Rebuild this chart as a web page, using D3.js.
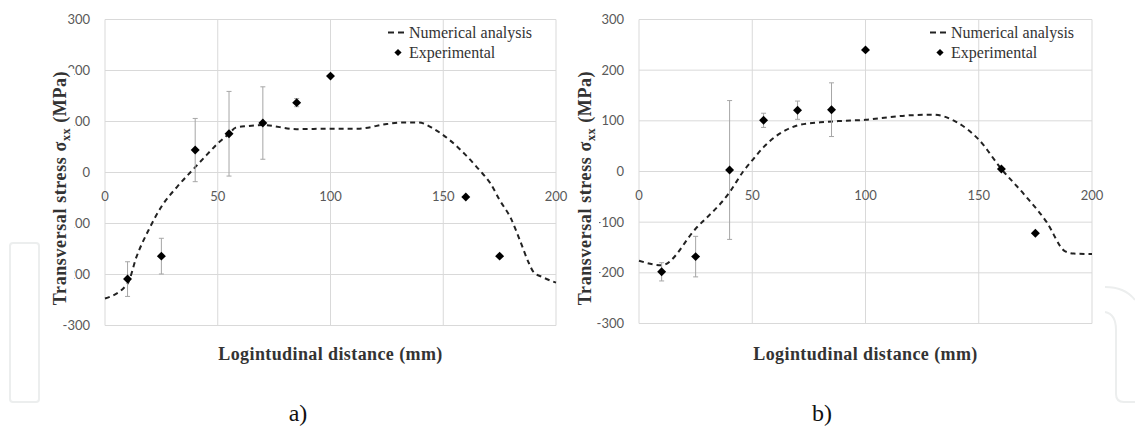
<!DOCTYPE html>
<html>
<head>
<meta charset="utf-8">
<script src="https://cdn.jsdelivr.net/npm/d3@7"></script>
<style>
  body { margin: 0; background: #fff; }
  svg { display: block; }
</style>
</head>
<body>
<svg id="chart" width="1135" height="432"></svg>
<script>
// experimental sample positions (mm), same for both panels
const expX = [10, 25, 40, 55, 70, 85, 100, 160, 175];

// panel a) experimental values and error (+/-)
const expA = [-209, -164, 44, 76, 97, 137, 189, -48, -164];
const errA = [34, 35, 62, 83, 71, 8, 0, 0, 0];

// panel b) experimental values and error (+/-)
const expB = [-198, -168, 3, 101, 121, 122, 240, 5, -122];
const errB = [18, 40, 137, 14, 18, 53, 0, 0, 0];

// numerical analysis curves
const numAX = [0, 10, 14, 20, 25, 32, 38, 45, 50, 55, 58, 63, 70, 85, 100, 112, 125, 131, 139, 146, 153, 160, 166, 171, 175, 180, 184, 188, 190, 194, 200];
const numAY = [-247, -218, -165, -107, -67, -28, 1, 34, 57, 76, 88, 91, 93, 85, 86, 86, 95, 98, 98, 85, 63, 34, 5, -22, -54, -90, -133, -178, -195, -205, -216];

const numBX = [0, 10, 25, 40, 46, 50, 55, 60, 65, 70, 80, 90, 100, 110, 120, 130, 140, 150, 160, 170, 180, 188, 192, 200];
const numBY = [-176, -185, -113, -41, 0, 22, 48, 68, 82, 91, 97, 100, 102, 107, 111, 112, 98, 63, 5, -45, -100, -157, -162, -163];

const xTicks = [0, 50, 100, 150, 200];
const yTicks = [-300, -200, -100, 0, 100, 200, 300];

const serif = "'Liberation Serif', 'Times New Roman', serif";
const sans = "Lato, 'Open Sans', sans-serif";

const panels = [
  { x0: 105, x1: 556, yb: 325.5, yt: 19.5, titleX: 60, legendX: 409, label: "a)", labelX: 298,
    numX: numAX, numY: numAY, expY: expA, err: errA },
  { x0: 639, x1: 1092, yb: 323.5, yt: 19.5, titleX: 585, legendX: 951, label: "b)", labelX: 822,
    numX: numBX, numY: numBY, expY: expB, err: errB },
];

const svg = d3.select("#chart");
svg.append("rect").attr("width", 1135).attr("height", 432).attr("fill", "#fff");

// faint page decorations
svg.append("rect")
  .attr("x", 10).attr("y", 243).attr("width", 29).attr("height", 159).attr("rx", 3)
  .attr("fill", "none").attr("stroke", "#eceeee").attr("stroke-width", 2);
svg.append("path")
  .attr("d", "M1105,287 Q1125,287 1135,300 M1105,312 Q1116,314 1116,330 L1116,394 Q1116,402 1124,402 L1135,402")
  .attr("fill", "none").attr("stroke", "#eceeee").attr("stroke-width", 2);

// square diamond marker (square turned 45deg)
const diamond = d3.symbol().type(d3.symbolSquare).size(40);

function drawPanel(p) {
  const g = svg.append("g");
  const x = d3.scaleLinear().domain([0, 200]).range([p.x0, p.x1]);
  const y = d3.scaleLinear().domain([-300, 300]).range([p.yb, p.yt]);

  // grid
  g.selectAll(".vgrid").data(xTicks).join("line")
    .attr("x1", (d) => x(d)).attr("x2", (d) => x(d))
    .attr("y1", y(-300)).attr("y2", y(300))
    .attr("stroke", "#d9d9d9").attr("stroke-width", 1);
  g.selectAll(".hgrid").data(yTicks).join("line")
    .attr("x1", x(0)).attr("x2", x(200))
    .attr("y1", (d) => y(d)).attr("y2", (d) => y(d))
    .attr("stroke", "#d9d9d9").attr("stroke-width", 1);

  // y tick labels
  g.selectAll(".ylab").data(yTicks).join("text")
    .attr("x", x(0) - 15).attr("y", (d) => y(d) + 4.5)
    .attr("text-anchor", "end")
    .attr("font-family", sans).attr("font-size", 13).attr("fill", "#595959")
    .text((d) => d);

  // x tick labels sit under the zero line
  g.selectAll(".xlab").data(xTicks).join("text")
    .attr("x", (d) => x(d)).attr("y", y(0) + 28)
    .attr("text-anchor", "middle")
    .attr("font-family", sans).attr("font-size", 13).attr("fill", "#595959")
    .text((d) => d);

  // numerical curve
  const pts = p.numX.map((d, i) => [d, p.numY[i]]);
  const line = d3.line().x((d) => x(d[0])).y((d) => y(d[1])).curve(d3.curveMonotoneX);
  g.append("path").datum(pts)
    .attr("d", line)
    .attr("fill", "none").attr("stroke", "#222").attr("stroke-width", 2)
    .attr("stroke-dasharray", "5,4");

  // error bars
  const exp = expX.map((d, i) => ({ x: d, y: p.expY[i], e: p.err[i] })).filter((d) => d.e > 0);
  const eb = g.selectAll(".err").data(exp).join("g").attr("stroke", "#a6a6a6").attr("stroke-width", 1);
  eb.append("line")
    .attr("x1", (d) => x(d.x)).attr("x2", (d) => x(d.x))
    .attr("y1", (d) => y(d.y - d.e)).attr("y2", (d) => y(d.y + d.e));
  eb.append("line")
    .attr("x1", (d) => x(d.x) - 2.5).attr("x2", (d) => x(d.x) + 2.5)
    .attr("y1", (d) => y(d.y + d.e)).attr("y2", (d) => y(d.y + d.e));
  eb.append("line")
    .attr("x1", (d) => x(d.x) - 2.5).attr("x2", (d) => x(d.x) + 2.5)
    .attr("y1", (d) => y(d.y - d.e)).attr("y2", (d) => y(d.y - d.e));

  // experimental markers
  g.selectAll(".pt").data(expX).join("path")
    .attr("d", diamond)
    .attr("transform", (d, i) => `translate(${x(d)},${y(p.expY[i])}) rotate(45)`)
    .attr("fill", "#000");

  // legend
  const lg = g.append("g").attr("font-family", serif).attr("font-size", 16).attr("fill", "#333");
  lg.append("line")
    .attr("x1", p.legendX - 21).attr("x2", p.legendX - 5)
    .attr("y1", p.yt + 13).attr("y2", p.yt + 13)
    .attr("stroke", "#222").attr("stroke-width", 2).attr("stroke-dasharray", "6,4");
  lg.append("text").attr("x", p.legendX).attr("y", p.yt + 18).text("Numerical analysis");
  lg.append("path").attr("d", d3.symbol().type(d3.symbolSquare).size(26))
    .attr("transform", `translate(${p.legendX - 11},${p.yt + 33}) rotate(45)`).attr("fill", "#000");
  lg.append("text").attr("x", p.legendX).attr("y", p.yt + 38).text("Experimental");

  // x axis title
  g.append("text")
    .attr("x", (p.x0 + p.x1) / 2).attr("y", 360)
    .attr("text-anchor", "middle")
    .attr("font-family", serif).attr("font-size", 18).attr("font-weight", "bold")
    .attr("letter-spacing", 0.4).attr("fill", "#333")
    .text("Logintudinal distance (mm)");

  // y axis title, on a white box like the original
  const tg = g.append("g").attr("transform", `translate(${p.titleX},188) rotate(-90)`);
  const bg = tg.append("rect").attr("fill", "#fff");
  const t = tg.append("text")
    .attr("x", 0).attr("y", 6)
    .attr("text-anchor", "middle")
    .attr("font-family", serif).attr("font-size", 18).attr("font-weight", "bold")
    .attr("letter-spacing", 0.6).attr("fill", "#333");
  t.append("tspan").text("Transversal stress σ");
  t.append("tspan").attr("font-size", 12).attr("dy", 4).text("xx");
  t.append("tspan").attr("dy", -4).text(" (MPa)");
  const bb = t.node().getBBox();
  bg.attr("x", bb.x - 2).attr("y", bb.y - 1).attr("width", bb.width + 4).attr("height", bb.height + 2);

  // panel label
  g.append("text")
    .attr("x", p.labelX).attr("y", 421)
    .attr("text-anchor", "middle")
    .attr("font-family", serif).attr("font-size", 24).attr("fill", "#111")
    .text(p.label);
}

for (const p of panels) {
  drawPanel(p);
}
</script>
</body>
</html>
